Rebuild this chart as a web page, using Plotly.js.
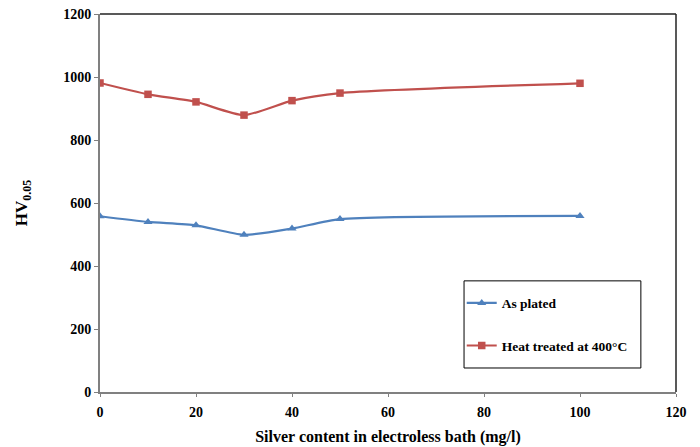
<!DOCTYPE html>
<html>
<head>
<meta charset="utf-8">
<script src="https://cdn.plot.ly/plotly-3.0.1.min.js"></script>
<style>html,body{margin:0;padding:0;background:#fff;}#chart{width:700px;height:447px;}</style>
</head>
<body>
<div id="chart"></div>
<script>
const silver = [0, 10, 20, 30, 40, 50, 100];
const asPlated = [558, 540, 529, 499, 519, 549, 559];
const heatTreated = [981, 945, 921, 879, 925, 949, 980];
const seriesNames = ["As plated", "Heat treated at 400°C"];
const xTicks = [0, 20, 40, 60, 80, 100, 120];
const yTicks = [0, 200, 400, 600, 800, 1000, 1200];

const fam = "Liberation Serif, Times New Roman, serif";
const font = {family: fam, color: "#000", size: 14, weight: 700};

const traces = [
  {x: silver, y: asPlated, name: seriesNames[0], type: "scatter", mode: "lines+markers",
   legendgroup: "a",
   line: {color: "#4F81BD", width: 2.2, shape: "spline", smoothing: 0.6},
   marker: {symbol: "triangle-up", size: 8, color: "#4F81BD"}},
  {x: silver, y: heatTreated, name: seriesNames[1], type: "scatter", mode: "lines+markers",
   legendgroup: "b",
   line: {color: "#C0504D", width: 2.2, shape: "spline", smoothing: 0.6},
   marker: {symbol: "square", size: 7.5, color: "#C0504D"}}
];

const layout = {
  width: 700, height: 447,
  margin: {l: 100, r: 24, t: 14, b: 55},
  paper_bgcolor: "#fff", plot_bgcolor: "#fff",
  font: font,
  showlegend: true,
  legend: {
    x: 0.628, y: 0.276, xanchor: "left", yanchor: "top",
    borderwidth: 0, bgcolor: "rgba(0,0,0,0)",
    font: {family: fam, size: 13.5, color: "#000", weight: 700},
    traceorder: "grouped", tracegroupgap: 22,
    itemwidth: 30
  },
  xaxis: {
    range: [0, 120], tickvals: xTicks, ticktext: xTicks.map(String),
    showgrid: false, zeroline: false,
    showline: true, linecolor: "#808080", linewidth: 2,
    ticks: "outside", ticklen: 3, tickcolor: "#808080", tickwidth: 1,
    ticklabelstandoff: 3,
    tickfont: font,
    title: {text: "Silver content in electroless bath (mg/l)", font: {family: fam, size: 16, color: "#000", weight: 700}, standoff: 12},
    automargin: false
  },
  yaxis: {
    range: [0, 1200], tickvals: yTicks, ticktext: yTicks.map(String),
    showgrid: false, zeroline: false,
    showline: true, linecolor: "#808080", linewidth: 2,
    ticks: "outside", ticklen: 4, tickcolor: "#808080", tickwidth: 1,
    tickfont: font,
    title: {text: "HV<sub>0.05</sub>", font: {family: fam, size: 17, color: "#000", weight: 700}, standoff: 31},
    automargin: false
  },
  shapes: [
    {type: "line", xref: "paper", yref: "paper", x0: 0, x1: 1, y0: 1, y1: 1, line: {color: "#222", width: 1.5}},
    {type: "line", xref: "paper", yref: "paper", x0: 1, x1: 1, y0: 0, y1: 1, line: {color: "#222", width: 1.5}},
    {type: "rect", xref: "paper", yref: "paper", x0: 0.632, x1: 0.939, y0: 0.0635, y1: 0.294, line: {color: "#000", width: 1}, fillcolor: "rgba(0,0,0,0)"}
  ]
};

Plotly.newPlot("chart", traces, layout, {displayModeBar: false, staticPlot: true});
</script>
</body>
</html>
